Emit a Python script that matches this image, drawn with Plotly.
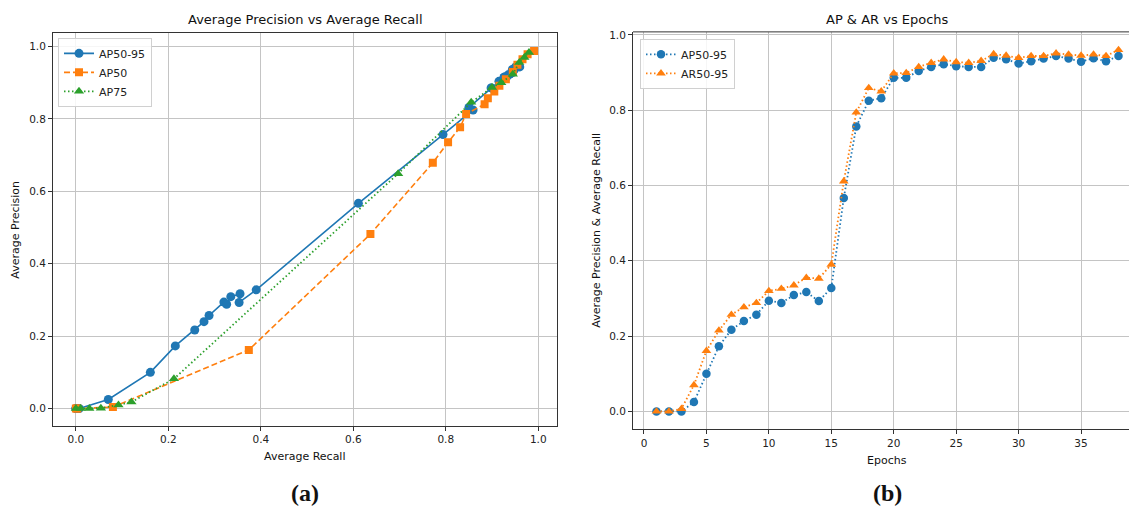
import plotly.graph_objects as go

# page body has an 8px margin: figure is sized/positioned to compensate
OFF = 8
W, H = 1137 - OFF, 512 - OFF

# ---------------- data ----------------
epochs = list(range(1, 39))
ap50_95 = [0, 0, 0, 0.025, 0.10, 0.173, 0.217, 0.24, 0.257, 0.294, 0.288, 0.309, 0.317, 0.293, 0.328,
           0.567, 0.757, 0.825, 0.832, 0.886, 0.886, 0.904, 0.915, 0.922, 0.917, 0.915, 0.915, 0.939,
           0.935, 0.924, 0.930, 0.937, 0.944, 0.937, 0.929, 0.938, 0.930, 0.944]
ar50_95 = [0, 0, 0.007, 0.07, 0.161, 0.215, 0.257, 0.277, 0.288, 0.32, 0.326, 0.335, 0.355, 0.353, 0.39,
           0.611, 0.794, 0.859, 0.85, 0.898, 0.899, 0.915, 0.926, 0.935, 0.928, 0.926, 0.931, 0.949,
           0.945, 0.939, 0.944, 0.944, 0.951, 0.948, 0.945, 0.948, 0.944, 0.96]

ap50_recall = [0.0, 0.003, 0.08, 0.374, 0.637, 0.772, 0.805, 0.831, 0.844, 0.884, 0.891, 0.905, 0.916,
               0.93, 0.945, 0.955, 0.966, 0.977, 0.991]
ap50_prec = [0.0, 0.0, 0.004, 0.162, 0.482, 0.679, 0.736, 0.777, 0.814, 0.841, 0.857, 0.876, 0.892,
             0.91, 0.93, 0.95, 0.965, 0.979, 0.988]

ap75_recall = [0.0, 0.01, 0.029, 0.054, 0.092, 0.12, 0.212, 0.697, 0.855, 0.9, 0.92, 0.945, 0.959, 0.97, 0.98]
ap75_prec = [0.0, 0.0, 0.0, 0.001, 0.01, 0.018, 0.082, 0.649, 0.846, 0.887, 0.9, 0.924, 0.956, 0.97, 0.984]

left_ticks = [0.0, 0.2, 0.4, 0.6, 0.8, 1.0]
epoch_ticks = [0, 5, 10, 15, 20, 25, 30, 35]

BLUE, ORANGE, GREEN = "#1f77b4", "#ff7f0e", "#2ca02c"
FONT = "DejaVu Sans"
DASH = "6px,3px"
DOT = "1.5px,2.5px"


def px(x):
    return (x - OFF) / W


def py(y):
    return 1 - (y - OFF) / H


fig = go.Figure()

# ---------------- left panel ----------------
fig.add_trace(go.Scatter(x=ar50_95, y=ap50_95, name="AP50-95", mode="lines+markers",
                         line=dict(color=BLUE, width=1.6),
                         marker=dict(symbol="circle", size=9, color=BLUE),
                         xaxis="x", yaxis="y", legend="legend"))
fig.add_trace(go.Scatter(x=ap50_recall, y=ap50_prec, name="AP50", mode="lines+markers",
                         line=dict(color=ORANGE, width=1.6, dash=DASH),
                         marker=dict(symbol="square", size=8, color=ORANGE),
                         xaxis="x", yaxis="y", legend="legend"))
fig.add_trace(go.Scatter(x=ap75_recall, y=ap75_prec, name="AP75", mode="lines+markers",
                         line=dict(color=GREEN, width=1.8, dash=DOT),
                         marker=dict(symbol="triangle-up", size=9, color=GREEN),
                         xaxis="x", yaxis="y", legend="legend"))

# ---------------- right panel ----------------
fig.add_trace(go.Scatter(x=epochs, y=ap50_95, name="AP50-95", mode="lines+markers",
                         line=dict(color=BLUE, width=1.8, dash=DOT),
                         marker=dict(symbol="circle", size=8.5, color=BLUE),
                         xaxis="x2", yaxis="y2", legend="legend2"))
fig.add_trace(go.Scatter(x=epochs, y=ar50_95, name="AR50-95", mode="lines+markers",
                         line=dict(color=ORANGE, width=1.8, dash=DOT),
                         marker=dict(symbol="triangle-up", size=8.5, color=ORANGE),
                         xaxis="x2", yaxis="y2", legend="legend2"))

axis_common = dict(showgrid=True, gridcolor="#c4c4c4", gridwidth=1, zeroline=False,
                   showline=True, linecolor="#333333", linewidth=1,
                   ticks="outside", ticklen=4, tickcolor="#333333", tickwidth=1,
                   tickfont=dict(family=FONT, size=10.5, color="#222222"))

fig.update_layout(
    width=W, height=H,
    margin=dict(l=0, r=0, t=0, b=0),
    paper_bgcolor="white", plot_bgcolor="white",
    font=dict(family=FONT, color="#222222"),
    xaxis=dict(domain=[px(53), px(557)], range=[-0.0496, 1.0406], anchor="y",
               tickvals=left_ticks, tickformat=".1f", mirror=True, **axis_common),
    yaxis=dict(domain=[py(425), py(30)], range=[-0.047, 1.038], anchor="x",
               tickvals=left_ticks, tickformat=".1f", mirror=True, **axis_common),
    xaxis2=dict(domain=[px(633), 1.0], range=[-0.88, 39.48], anchor="y2",
                tickvals=epoch_ticks, mirror=False, **axis_common),
    yaxis2=dict(domain=[py(429), py(29)], range=[-0.048, 1.008], anchor="x2",
                tickvals=left_ticks, tickformat=".1f", mirror=False, **axis_common),
    legend=dict(x=px(58), y=py(35), xanchor="left", yanchor="top",
                bgcolor="rgba(255,255,255,0.85)", bordercolor="#d0d0d0", borderwidth=1,
                font=dict(family=FONT, size=11, color="#222222"), itemwidth=30,
                tracegroupgap=0),
    legend2=dict(x=px(640), y=py(36), xanchor="left", yanchor="top",
                 bgcolor="rgba(255,255,255,0.85)", bordercolor="#d0d0d0", borderwidth=1,
                 font=dict(family=FONT, size=11, color="#222222"), itemwidth=30,
                 tracegroupgap=0),
)

# top spine for right panel (no right spine: panel is cropped at the page edge)
fig.add_shape(type="line", xref="paper", yref="paper", x0=px(633), x1=1.0, y0=py(29), y1=py(29),
              line=dict(color="#333333", width=1))


def ann(text, x, y, size, angle=0, family=FONT, bold=False):
    t = f"<b>{text}</b>" if bold else text
    fig.add_annotation(text=t, x=px(x), y=py(y), xref="paper", yref="paper",
                       xanchor="center", yanchor="middle", showarrow=False, textangle=angle,
                       font=dict(family=family, size=size, color="#111111"))


ann("Average Precision vs Average Recall", 305, 17, 13)
ann("AP &amp; AR vs Epochs", 887, 17, 13)
ann("Average Recall", 305, 456, 11)
ann("Average Precision", 16, 228, 11, angle=-90)
ann("Epochs", 887, 460, 11)
ann("Average Precision &amp; Average Recall", 597, 229, 11, angle=-90)
ann("(a)", 305, 493, 24, family="Liberation Serif", bold=True)
ann("(b)", 887, 493, 24, family="Liberation Serif", bold=True)

fig.write_html("out.html")
